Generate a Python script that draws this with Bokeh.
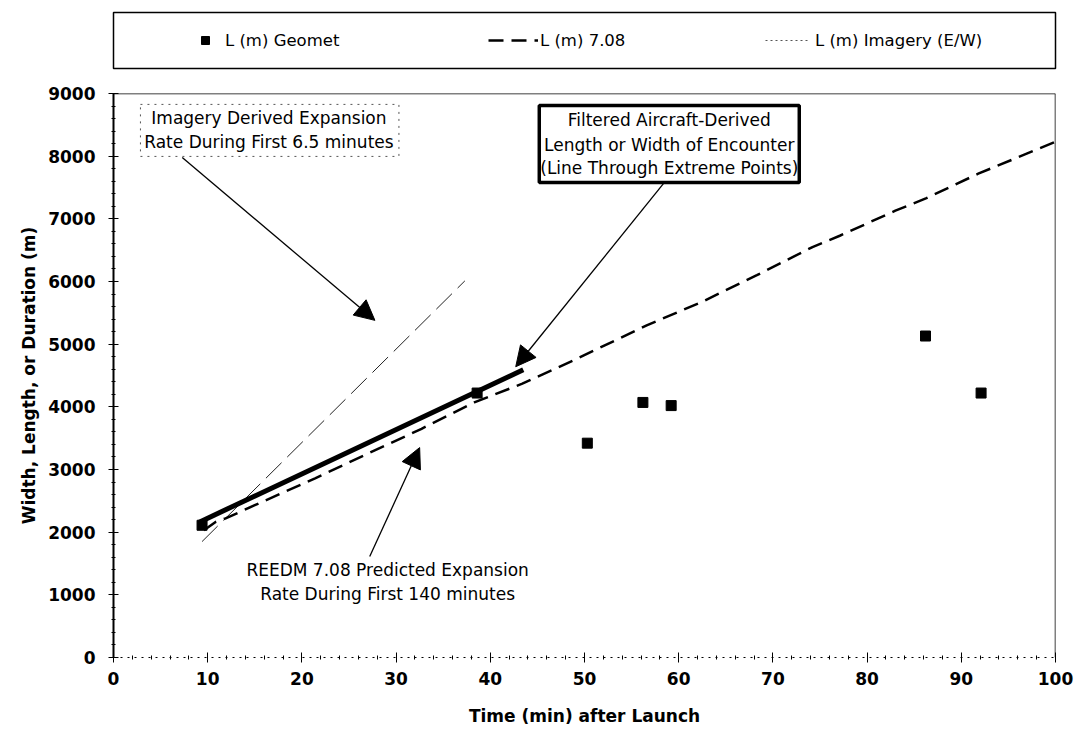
from bokeh.plotting import figure
from bokeh.models import (Range1d, SingleIntervalTicker, Span, BoxAnnotation, Label,
                          Arrow, NormalHead, Legend, LegendItem)
from bokeh.layouts import column
from bokeh.embed import file_html
from bokeh.resources import INLINE

# ---------------- data ----------------
geomet_time = [9.4, 38.6, 50.3, 56.2, 59.2, 86.2, 92.1]
geomet_len = [2110, 4220, 3420, 4070, 4020, 5130, 4220]

reedm_time = [9.6, 10.8, 11.9, 15.0, 21.4, 27.1, 32.7, 38.3, 43.4, 48.8,
              56.6, 62.4, 68.3, 74.2, 77.1, 83.0, 86.3, 91.8, 100.0]
reedm_len = [2030, 2160, 2220, 2430, 2860, 3260, 3650, 4070, 4370, 4740,
             5300, 5670, 6100, 6550, 6730, 7130, 7330, 7720, 8230]

imagery_time = [9.4, 37.3]
imagery_len = [1850, 6010]

filtered_time = [9.1, 43.5]
filtered_len = [2160, 4590]

legend_labels = ["L (m) Geomet", "L (m) 7.08", "L (m) Imagery (E/W)"]
x_title = "Time (min) after Launch"
y_title = "Width, Length, or Duration (m)"

FONT = "DejaVu Sans"
NAN = float("nan")

# ---------------- main plot ----------------
p = figure(width=1078, height=660, x_range=Range1d(0, 100), y_range=Range1d(0, 9000),
           output_backend="svg", toolbar_location=None,
           min_border_left=111, min_border_right=23, min_border_top=13, min_border_bottom=83)
p.outline_line_color = None
p.grid.visible = False
p.background_fill_color = "white"
p.border_fill_color = "white"

p.xaxis.ticker = SingleIntervalTicker(interval=10, num_minor_ticks=5)
p.yaxis.ticker = SingleIntervalTicker(interval=1000, num_minor_ticks=5)

for ax in (p.xaxis[0], p.yaxis[0]):
    ax.major_label_text_font = FONT
    ax.major_label_text_font_style = "bold"
    ax.major_label_text_font_size = "17px"
    ax.major_label_text_color = "black"
    ax.axis_label_text_font = FONT
    ax.axis_label_text_font_style = "bold"
    ax.axis_label_text_font_size = "17px"
    ax.axis_label_text_color = "black"
    ax.major_tick_line_color = "black"
    ax.minor_tick_line_color = "black"
    ax.major_tick_in = 5
    ax.major_tick_out = 5
    ax.minor_tick_in = 2
    ax.minor_tick_out = 2

p.xaxis.axis_label = x_title
p.yaxis.axis_label = y_title
p.yaxis.axis_line_width = 2
p.yaxis.axis_line_color = "black"
p.xaxis.axis_line_color = "black"
p.xaxis.axis_line_dash = "2 5"
p.xaxis.major_label_standoff = 9
p.xaxis.axis_label_standoff = 18
p.yaxis.major_label_standoff = 13
p.yaxis.axis_label_standoff = 6

# top and right borders
p.add_layout(Span(location=9000, dimension="width", line_color="black", line_width=1.5))
p.add_layout(Span(location=100, dimension="height", line_color="black", line_width=1.5))

# series
p.line(imagery_time, imagery_len, line_color="#222222", line_width=1, line_dash="22 8")
p.line(reedm_time, reedm_len, line_color="black", line_width=2.5, line_dash="15 8")
p.line(filtered_time, filtered_len, line_color="black", line_width=5)
p.scatter(geomet_time, geomet_len, marker="square", size=10, color="black")

# annotation boxes and texts
p.add_layout(BoxAnnotation(left=2.86, right=30.3, bottom=7996, top=8826,
                           fill_color=None, line_color="#555555", line_alpha=1,
                           line_width=1, line_dash="2 5"))
for txt, yy in (("Imagery Derived Expansion", 8602), ("Rate During First 6.5 minutes", 8219)):
    p.add_layout(Label(x=16.5, y=yy, text=txt, text_align="center", text_baseline="middle",
                       text_font=FONT, text_font_size="17px", text_color="black"))

p.add_layout(BoxAnnotation(left=45.2, right=72.8, bottom=7581, top=8810,
                           fill_color=None, line_color="black", line_alpha=1, line_width=3.5))
for txt, yy in (("Filtered Aircraft-Derived", 8570),
                ("Length or Width of Encounter", 8172),
                ("(Line Through Extreme Points)", 7804)):
    p.add_layout(Label(x=59.0, y=yy, text=txt, text_align="center", text_baseline="middle",
                       text_font=FONT, text_font_size="17px", text_color="black"))

for txt, yy in (("REEDM 7.08 Predicted Expansion", 1389),
                ("Rate During First 140 minutes", 1021)):
    p.add_layout(Label(x=29.1, y=yy, text=txt, text_align="center", text_baseline="middle",
                       text_font=FONT, text_font_size="17px", text_color="black"))

# arrows
for xs, ys, xe, ye in ((7.3, 7980, 27.75, 5380),
                       (58.4, 7565, 42.7, 4640),
                       (27.2, 1612, 32.5, 3350)):
    p.add_layout(Arrow(end=NormalHead(size=20, fill_color="black", line_color="black"),
                       x_start=xs, y_start=ys, x_end=xe, y_end=ye,
                       line_color="black", line_width=1.3))

# ---------------- legend panel ----------------
lp = figure(width=1078, height=80, x_range=Range1d(0, 1), y_range=Range1d(0, 1),
            output_backend="svg", toolbar_location=None,
            x_axis_location=None, y_axis_location=None,
            min_border_left=113, min_border_right=21, min_border_top=12, min_border_bottom=12)
lp.grid.visible = False
lp.outline_line_color = "black"
lp.outline_line_width = 1.5

# legend-only renderers (a single undefined point, never visible in the panel)
r1 = lp.scatter([NAN], [NAN], marker="square", size=10, color="black")
r2 = lp.line([NAN, NAN], [NAN, NAN], line_color="black", line_width=2.5, line_dash="15 8")
r3 = lp.line([NAN, NAN], [NAN, NAN], line_color="#555555", line_width=1, line_dash="2 3")

for lab, r, xpos, gw, so in ((legend_labels[0], r1, 82, 20, 10),
                             (legend_labels[1], r2, 375, 50, 2),
                             (legend_labels[2], r3, 652, 43, 7)):
    lg = Legend(items=[LegendItem(label=lab, renderers=[r])], location=(xpos, 18),
                orientation="horizontal", glyph_width=gw, glyph_height=20,
                label_standoff=so, padding=0, margin=0, spacing=0,
                border_line_color=None, background_fill_alpha=0,
                label_text_font=FONT, label_text_font_size="16.5px",
                label_text_color="black", label_height=20)
    lp.add_layout(lg, "center")

layout = column(lp, p)
open("out.html", "w").write(file_html(layout, INLINE))
